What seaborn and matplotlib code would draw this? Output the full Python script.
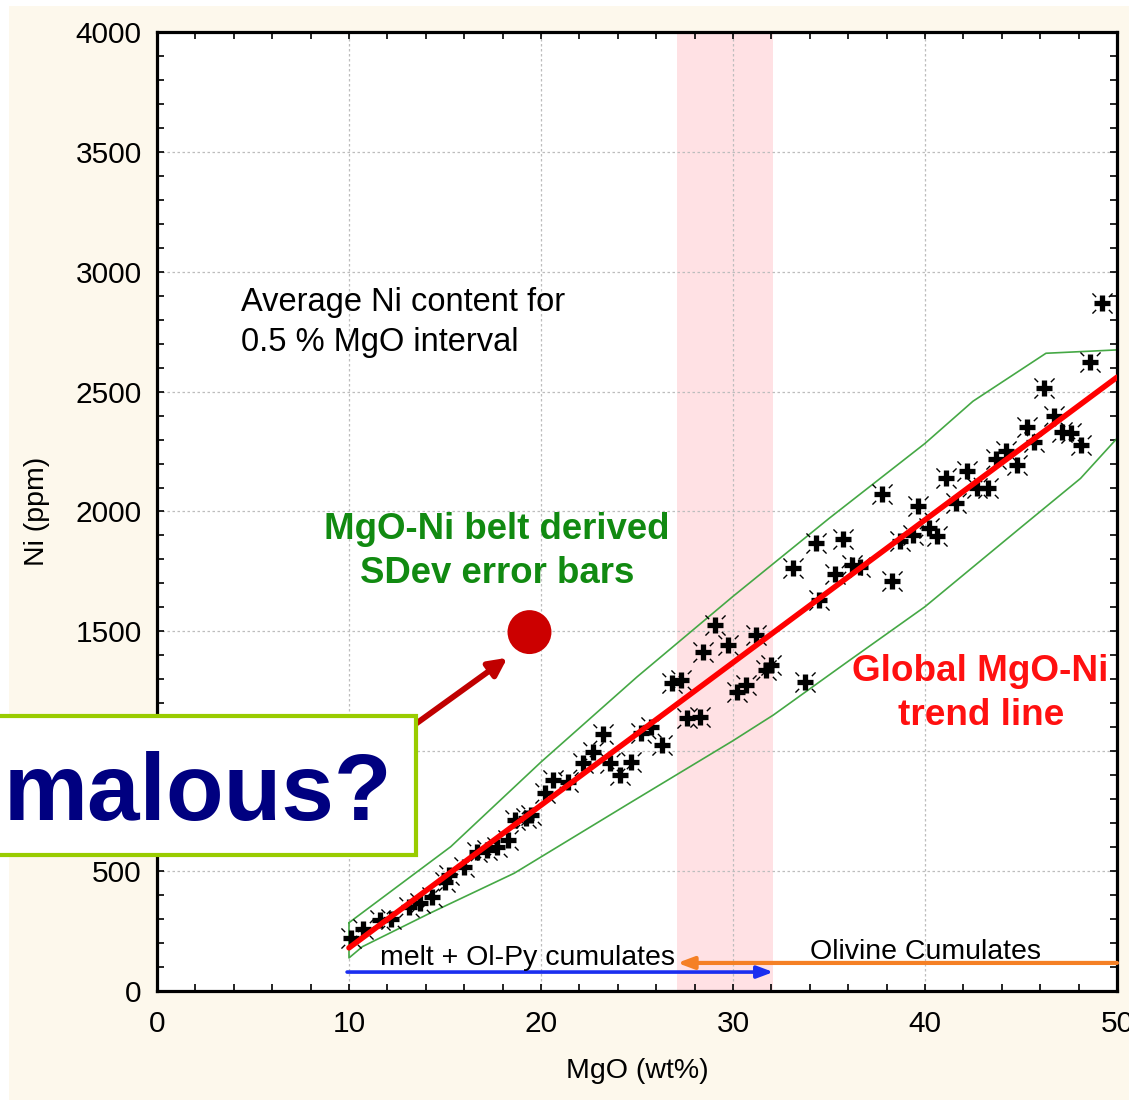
import numpy as np
import pandas as pd
import matplotlib
matplotlib.use("Agg")
import matplotlib.pyplot as plt
import seaborn as sns
from matplotlib.path import Path
from matplotlib.patches import Rectangle
from matplotlib.ticker import MultipleLocator

# ---- averaged Ni per 0.5 % MgO interval ----
mgo = [10.1, 10.75, 11.6, 12.2, 13.1, 13.7, 14.3, 15.0, 15.2, 16.0, 16.65, 17.2,
       17.7, 18.3, 18.65, 19.2, 19.5, 20.2, 20.6, 21.4, 22.2, 22.7, 23.25, 23.6,
       24.1, 24.7, 25.2, 25.75, 26.3, 26.8, 27.3, 27.6, 28.3, 28.45, 29.05, 29.75,
       30.2, 30.7, 31.2, 31.7, 32.0, 33.1, 33.75, 34.3, 34.5, 35.3, 35.75, 36.2,
       36.6, 37.75, 38.3, 38.7, 39.4, 39.65, 40.2, 40.6, 41.1, 41.6, 42.2, 42.7,
       43.3, 43.7, 44.2, 44.8, 45.3, 45.7, 46.2, 46.7, 47.15, 47.6, 48.1, 48.6, 49.2]
ni = [220, 257, 296, 299, 352, 366, 393, 456, 484, 518, 581, 588,
      602, 630, 713, 720, 734, 825, 880, 873, 950, 998, 1070, 950,
      901, 956, 1075, 1102, 1026, 1283, 1297, 1137, 1144, 1415, 1527, 1443,
      1248, 1276, 1485, 1339, 1360, 1764, 1290, 1870, 1631, 1740, 1885, 1777,
      1767, 2073, 1710, 1878, 1902, 2023, 1930, 1896, 2139, 2034, 2170, 2100,
      2097, 2217, 2252, 2194, 2353, 2288, 2514, 2400, 2330, 2326, 2277, 2625, 2870]

# global MgO-Ni trend line
trend_mgo = [10, 50]
trend_ni = [180, 2560]

# SDev belt limits
upper_mgo = [10, 15.3, 20, 25, 30, 35, 40, 42.5, 46.3, 50]
upper_ni = [285, 602, 955, 1310, 1646, 1971, 2284, 2460, 2660, 2674]
lower_mgo = [10, 10.7, 14.2, 18.6, 24.6, 30, 32.1, 36.1, 40, 45, 48.1, 50]
lower_ni = [138, 185, 324, 491, 783, 1044, 1151, 1381, 1603, 1934, 2138, 2305]

# highlighted sample and transition band
odd_mgo, odd_ni = [19.4], [1497]
band_mgo = [27.1, 32.1]

df = pd.DataFrame({"MgO": mgo, "Ni": ni})
trend = pd.DataFrame({"MgO": trend_mgo, "Ni": trend_ni})

sns.set_theme(style="white")
plt.rcParams["font.family"] = ["Liberation Sans", "DejaVu Sans"]
plt.rcParams["text.color"] = "black"
plt.rcParams["axes.labelcolor"] = "black"
plt.rcParams["xtick.color"] = "black"
plt.rcParams["ytick.color"] = "black"

cream = "#fdf8ec"
fig = plt.figure(figsize=(11.29, 11.0), dpi=100, facecolor=cream)
fig.add_artist(Rectangle((0, 0), 9 / 1129, 1, transform=fig.transFigure,
                         facecolor="white", edgecolor="none", zorder=-1))
fig.add_artist(Rectangle((0, 1 - 6 / 1100), 1, 6 / 1100, transform=fig.transFigure,
                         facecolor="white", edgecolor="none", zorder=-1))

ax = fig.add_axes([157 / 1129, 1 - 991 / 1100, 960 / 1129, 959 / 1100])
ax.set_facecolor("white")

ax.axvspan(band_mgo[0], band_mgo[1], color="#ffe1e4", zorder=0.1, lw=0)

# belt outline as a closed polygon
belt_x = upper_mgo + lower_mgo[::-1] + [upper_mgo[0]]
belt_y = upper_ni + lower_ni[::-1] + [upper_ni[0]]
ax.plot(belt_x, belt_y, color="#45a845", lw=1.2, zorder=2)

# asterisk-style markers: bold cross plus short diagonal ticks
spike_verts, spike_codes = [], []
for dx, dy in [(1, 1), (1, -1), (-1, 1), (-1, -1)]:
    spike_verts += [(0.6 * dx, 0.6 * dy), (0.95 * dx, 0.95 * dy)]
    spike_codes += [Path.MOVETO, Path.LINETO]
spike = Path(spike_verts, spike_codes)

ax.scatter(df["MgO"], df["Ni"], marker=spike, s=210, c="black",
           linewidths=1.0, zorder=3)
sns.scatterplot(data=df, x="MgO", y="Ni", marker="+", s=125, color="black",
                linewidth=3.8, ax=ax, zorder=4, legend=False)

sns.lineplot(data=trend, x="MgO", y="Ni", color="#ff0000", lw=4.0, ax=ax,
             zorder=5, legend=False)

# process arrows along the base
ax.annotate("", xy=(32.1, 79), xytext=(9.9, 79),
            arrowprops=dict(arrowstyle="-|>,head_length=0.8,head_width=0.3",
                            color="#1a2ef0", lw=2.6, shrinkA=0, shrinkB=0),
            zorder=6)
ax.annotate("", xy=(27.1, 117), xytext=(50, 117),
            arrowprops=dict(arrowstyle="-|>,head_length=0.8,head_width=0.3",
                            color="#f58025", lw=3.0, shrinkA=0, shrinkB=0),
            zorder=6)

ax.text(19.3, 138, "melt + Ol-Py cumulates", fontsize=20.5, color="black",
        ha="center", va="center", zorder=7)
ax.text(40.05, 163, "Olivine Cumulates", fontsize=20.5, color="black",
        ha="center", va="center", zorder=7)

ax.text(4.35, 2790, "Average Ni content for\n0.5 % MgO interval", fontsize=23.5,
        color="black", ha="left", va="center", linespacing=1.38, zorder=7)
ax.text(17.7, 1834, "MgO-Ni belt derived\nSDev error bars", fontsize=26.4,
        color="#118a11", fontweight="bold", ha="center", va="center",
        linespacing=1.34, zorder=7)
ax.text(42.9, 1240, "Global MgO-Ni\ntrend line", fontsize=26.6,
        color="#ff1010", fontweight="bold", ha="center", va="center",
        linespacing=1.34, zorder=7)

# highlighted sample with pointer
sns.scatterplot(x=odd_mgo, y=odd_ni, s=1000, color="#cc0000", edgecolor="none",
                ax=ax, zorder=8, legend=False)
ax.annotate("", xy=(18.25, 1390), xytext=(11.5, 1000),
            arrowprops=dict(arrowstyle="-|>,head_length=0.9,head_width=0.45",
                            color="#c00000", lw=4.2, shrinkA=0, shrinkB=0),
            zorder=8)

# axes, ticks and grid
ax.set_xlim(0, 50)
ax.set_ylim(0, 4000)
ax.xaxis.set_major_locator(MultipleLocator(10))
ax.xaxis.set_minor_locator(MultipleLocator(2))
ax.yaxis.set_major_locator(MultipleLocator(500))
ax.yaxis.set_minor_locator(MultipleLocator(100))
ax.tick_params(which="both", direction="in", top=True, right=True, bottom=True,
               left=True, length=5, width=1.2, color="black", labelcolor="black")
ax.tick_params(axis="y", which="major", labelsize=21.5, pad=11)
ax.tick_params(axis="x", which="major", labelsize=21.5, pad=14)
ax.grid(True, which="major", color="#bdbdbd", lw=0.9, linestyle=(0, (2, 2)))
ax.set_axisbelow(True)
for sp in ax.spines.values():
    sp.set_visible(True)
    sp.set_color("black")
    sp.set_linewidth(2.3)

ax.set_xlabel("MgO (wt%)", fontsize=20.5, labelpad=14, color="black")
ax.set_ylabel("Ni (ppm)", fontsize=20.5, labelpad=18, color="black")

# callout box overlapping the left edge
fig.add_artist(Rectangle((-0.01, 1 - 855 / 1100), 0.01 + 416 / 1129, 139 / 1100,
                         transform=fig.transFigure, facecolor="white",
                         edgecolor="#99cc00", lw=3.0, zorder=10))
fig.text(4 / 1129, 1 - 820 / 1100, "malous?", fontsize=68, fontweight="bold",
         color="#000080", ha="left", va="baseline", zorder=11)

fig.savefig("out.png", dpi=100, facecolor=cream)
